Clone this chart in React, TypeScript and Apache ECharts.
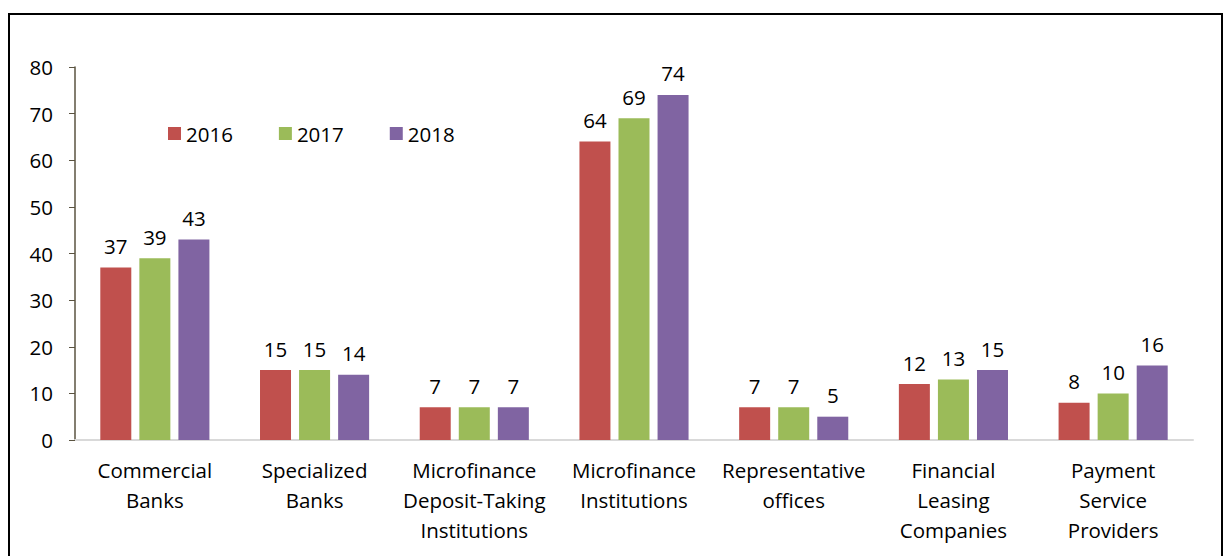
import React, { useEffect, useRef } from "react";
import * as echarts from "echarts";

const categories = [
  "Commercial\nBanks",
  "Specialized\nBanks",
  "Microfinance\nDeposit-Taking\nInstitutions",
  "Microfinance\nInstitutions",
  "Representative\noffices",
  "Financial\nLeasing\nCompanies",
  "Payment\nService\nProviders",
];
const seriesNames = ["2016", "2017", "2018"];
const values2016 = [37, 15, 7, 64, 7, 12, 8];
const values2017 = [39, 15, 7, 69, 7, 13, 10];
const values2018 = [43, 14, 7, 74, 5, 15, 16];
const colors = ["#C0504D", "#9BBB59", "#8064A2"];

const FONT = "Open Sans";
const FS = 20.5;

export default function App() {
  const ref = useRef<HTMLDivElement>(null);
  useEffect(() => {
    if (!ref.current) return;
    const chart = echarts.init(ref.current, null, { renderer: "svg" });
    const data = [values2016, values2017, values2018];
    chart.setOption({
      animation: false,
      backgroundColor: "#ffffff",
      textStyle: { fontFamily: FONT },
      graphic: [
        {
          type: "rect",
          shape: { x: 9, y: 14, width: 1213, height: 600 },
          style: { fill: "none", stroke: "#000", lineWidth: 2 },
          silent: true,
        },
      ],
      legend: {
        data: seriesNames,
        left: 163,
        top: 118,
        itemWidth: 13,
        itemHeight: 13,
        itemGap: 46,
        icon: "rect",
        textStyle: { fontSize: FS, color: "#000", fontFamily: FONT },
      },
      grid: { left: 75, right: 30, top: 67, bottom: 116, containLabel: false },
      xAxis: {
        type: "category",
        data: categories,
        axisLine: { show: true, lineStyle: { color: "#d9d9d9", width: 2 } },
        axisTick: { show: false },
        axisLabel: {
          interval: 0,
          fontSize: FS,
          lineHeight: 30,
          color: "#000",
          margin: 15,
          fontFamily: FONT,
        },
      },
      yAxis: {
        type: "value",
        min: 0,
        max: 80,
        interval: 10,
        splitLine: { show: false },
        axisLine: { show: true, lineStyle: { color: "#5a5340", width: 1.5 } },
        axisTick: { show: true, inside: false, length: 6, lineStyle: { color: "#5a5340" } },
        axisLabel: { fontSize: FS, color: "#000", margin: 22, fontFamily: FONT },
      },
      series: seriesNames.map((name, i) => ({
        name,
        type: "bar",
        data: data[i],
        barWidth: 31,
        barGap: "26%",
        itemStyle: { color: colors[i] },
        label: {
          show: true,
          position: "top",
          distance: 11,
          fontSize: FS,
          color: "#000",
          fontFamily: FONT,
        },
      })),
    });
    return () => chart.dispose();
  }, []);
  return (
    <div
      ref={ref}
      style={{ position: "fixed", left: 0, top: 0, width: 1223, height: 556 }}
    />
  );
}
